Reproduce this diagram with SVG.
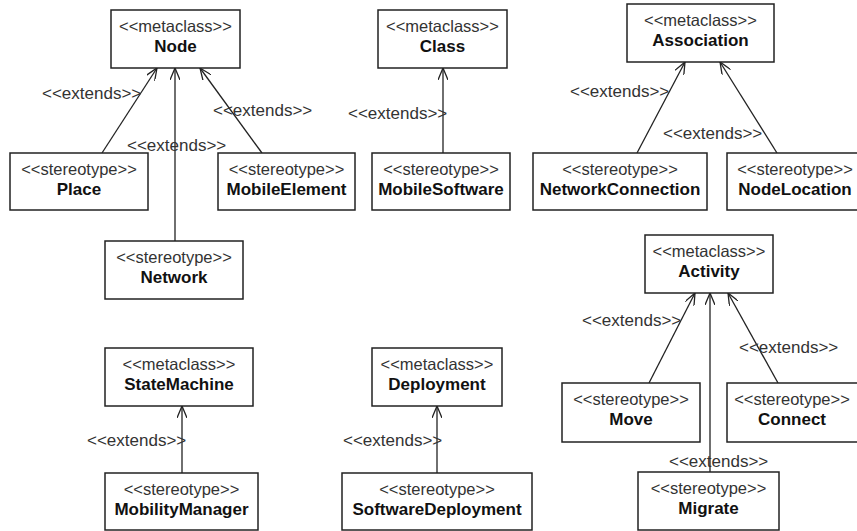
<svg xmlns="http://www.w3.org/2000/svg" width="857" height="531" viewBox="0 0 857 531">
<style>
.box{fill:#fff;stroke:#222;stroke-width:1.5}
.st{font-family:"Liberation Sans",Arial,sans-serif;font-size:16.5px;fill:#333;text-anchor:middle}
.nm{font-family:"Liberation Sans",Arial,sans-serif;font-size:17px;font-weight:bold;fill:#111;text-anchor:middle}
.lb{font-family:"Liberation Sans",Arial,sans-serif;font-size:17px;fill:#333}
.cn{fill:none;stroke:#222;stroke-width:1.3;marker-end:url(#open)}
</style>
<defs>
<marker id="open" markerUnits="userSpaceOnUse" viewBox="0 0 12 10" refX="12" refY="5" markerWidth="12" markerHeight="10" orient="auto">
<path d="M0,0 L12,5 L0,10" fill="none" stroke="#222" stroke-width="1.3"/>
</marker>
</defs>
<g id="connectors">
<line class="cn" x1="102" y1="153" x2="157" y2="68"/>
<line class="cn" x1="175" y1="241" x2="175" y2="68"/>
<line class="cn" x1="262" y1="153" x2="200" y2="68"/>
<line class="cn" x1="443" y1="153" x2="443" y2="68"/>
<line class="cn" x1="637" y1="153" x2="685" y2="62"/>
<line class="cn" x1="777" y1="153" x2="720" y2="62"/>
<line class="cn" x1="649" y1="383" x2="695" y2="293"/>
<line class="cn" x1="710" y1="472" x2="710" y2="293"/>
<line class="cn" x1="778" y1="383" x2="728" y2="293"/>
<line class="cn" x1="182" y1="473" x2="182" y2="406"/>
<line class="cn" x1="437" y1="473" x2="437" y2="406"/>
<text class="lb" x="42" y="99">&lt;&lt;extends&gt;&gt;</text>
<text class="lb" x="127" y="151">&lt;&lt;extends&gt;&gt;</text>
<text class="lb" x="213" y="116">&lt;&lt;extends&gt;&gt;</text>
<text class="lb" x="348" y="119">&lt;&lt;extends&gt;&gt;</text>
<text class="lb" x="570" y="97">&lt;&lt;extends&gt;&gt;</text>
<text class="lb" x="663" y="139">&lt;&lt;extends&gt;&gt;</text>
<text class="lb" x="582" y="326">&lt;&lt;extends&gt;&gt;</text>
<text class="lb" x="739" y="353">&lt;&lt;extends&gt;&gt;</text>
<text class="lb" x="669" y="467">&lt;&lt;extends&gt;&gt;</text>
<text class="lb" x="87" y="446">&lt;&lt;extends&gt;&gt;</text>
<text class="lb" x="343" y="446">&lt;&lt;extends&gt;&gt;</text>
</g>
<g id="node-Node"><rect class="box" x="111" y="10" width="129" height="58"/><text class="st" x="175.5" y="32">&lt;&lt;metaclass&gt;&gt;</text><text class="nm" x="175.5" y="52">Node</text></g>
<g id="node-Place"><rect class="box" x="10" y="153" width="138" height="57"/><text class="st" x="79" y="175">&lt;&lt;stereotype&gt;&gt;</text><text class="nm" x="79" y="195">Place</text></g>
<g id="node-MobileElement"><rect class="box" x="218" y="153" width="137" height="57"/><text class="st" x="286.5" y="175">&lt;&lt;stereotype&gt;&gt;</text><text class="nm" x="286.5" y="195">MobileElement</text></g>
<g id="node-Network"><rect class="box" x="105" y="241" width="138" height="58"/><text class="st" x="174" y="263">&lt;&lt;stereotype&gt;&gt;</text><text class="nm" x="174" y="283">Network</text></g>
<g id="node-Class"><rect class="box" x="378" y="10" width="129" height="58"/><text class="st" x="442.5" y="32">&lt;&lt;metaclass&gt;&gt;</text><text class="nm" x="442.5" y="52">Class</text></g>
<g id="node-MobileSoftware"><rect class="box" x="372" y="153" width="138" height="57"/><text class="st" x="441" y="175">&lt;&lt;stereotype&gt;&gt;</text><text class="nm" x="441" y="195">MobileSoftware</text></g>
<g id="node-Association"><rect class="box" x="627" y="4" width="147" height="58"/><text class="st" x="700.5" y="26">&lt;&lt;metaclass&gt;&gt;</text><text class="nm" x="700.5" y="46">Association</text></g>
<g id="node-NetworkConnection"><rect class="box" x="533" y="153" width="174" height="57"/><text class="st" x="620" y="175">&lt;&lt;stereotype&gt;&gt;</text><text class="nm" x="620" y="195">NetworkConnection</text></g>
<g id="node-NodeLocation"><rect class="box" x="727" y="153" width="136" height="57"/><text class="st" x="795" y="175">&lt;&lt;stereotype&gt;&gt;</text><text class="nm" x="795" y="195">NodeLocation</text></g>
<g id="node-Activity"><rect class="box" x="645" y="235" width="128" height="58"/><text class="st" x="709" y="257">&lt;&lt;metaclass&gt;&gt;</text><text class="nm" x="709" y="277">Activity</text></g>
<g id="node-Move"><rect class="box" x="562" y="383" width="138" height="59"/><text class="st" x="631" y="405">&lt;&lt;stereotype&gt;&gt;</text><text class="nm" x="631" y="425">Move</text></g>
<g id="node-Connect"><rect class="box" x="727" y="383" width="136" height="59"/><text class="st" x="792" y="405">&lt;&lt;stereotype&gt;&gt;</text><text class="nm" x="792" y="425">Connect</text></g>
<g id="node-Migrate"><rect class="box" x="638" y="472" width="141" height="58"/><text class="st" x="708.5" y="494">&lt;&lt;stereotype&gt;&gt;</text><text class="nm" x="708.5" y="514">Migrate</text></g>
<g id="node-StateMachine"><rect class="box" x="105" y="348" width="148" height="58"/><text class="st" x="179" y="370">&lt;&lt;metaclass&gt;&gt;</text><text class="nm" x="179" y="390">StateMachine</text></g>
<g id="node-MobilityManager"><rect class="box" x="105" y="473" width="153" height="57"/><text class="st" x="181.5" y="495">&lt;&lt;stereotype&gt;&gt;</text><text class="nm" x="181.5" y="515">MobilityManager</text></g>
<g id="node-Deployment"><rect class="box" x="372" y="348" width="130" height="58"/><text class="st" x="437" y="370">&lt;&lt;metaclass&gt;&gt;</text><text class="nm" x="437" y="390">Deployment</text></g>
<g id="node-SoftwareDeployment"><rect class="box" x="342" y="473" width="190" height="57"/><text class="st" x="437" y="495">&lt;&lt;stereotype&gt;&gt;</text><text class="nm" x="437" y="515">SoftwareDeployment</text></g>
</svg>
